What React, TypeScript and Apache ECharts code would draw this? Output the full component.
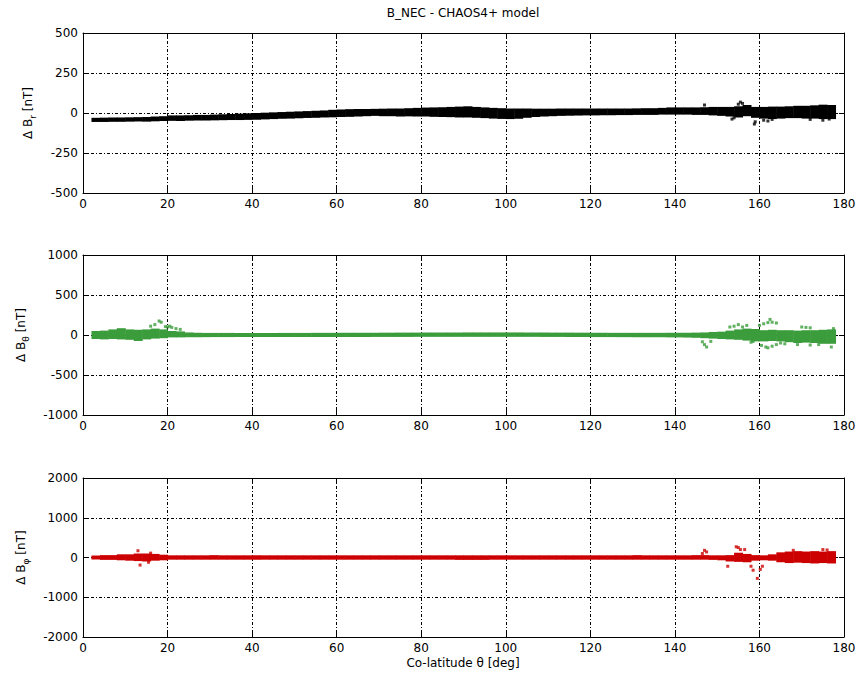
import React, { useEffect, useRef } from "react";
import * as echarts from "echarts";

// Band rows: [colatitude start, lower nT, upper nT] (each row spans to the next row's start)
const brBand: [number, number, number][] = [
  [2, -56, -30], [4, -56, -29], [6, -55, -28], [8, -55, -28], [10, -54, -27], [12, -53, -26],
  [14, -54, -25], [16, -52, -22], [18, -50, -20], [20, -49, -15], [22, -50, -15], [24, -48, -14],
  [26, -47, -12], [28, -47, -12], [30, -46, -10], [32, -45, -8], [34, -44, -6], [36, -44, -4],
  [38, -43, -2], [40, -42, 0], [42, -40, 2], [44, -38, 4], [46, -36, 6], [48, -35, 8],
  [50, -33, 10], [52, -31, 12], [54, -30, 14], [56, -28, 16], [58, -27, 20], [60, -25, 22],
  [62, -24, 24], [64, -22, 25], [66, -20, 25], [68, -18, 26], [70, -20, 27], [72, -20, 28],
  [74, -22, 28], [76, -21, 30], [78, -22, 32], [80, -22, 34], [82, -24, 35], [84, -25, 36],
  [86, -26, 38], [88, -28, 40], [90, -28, 42], [92, -30, 38], [94, -32, 35], [96, -35, 32],
  [98, -37, 30], [100, -38, 28], [102, -36, 28], [104, -30, 28], [106, -25, 27], [108, -22, 27],
  [110, -20, 27], [112, -18, 28], [114, -17, 28], [116, -16, 28], [118, -15, 28], [120, -15, 28],
  [122, -14, 28], [124, -14, 28], [126, -13, 28], [128, -13, 28], [130, -12, 29], [132, -12, 30],
  [134, -12, 30], [136, -10, 32], [138, -10, 35], [140, -10, 35], [142, -10, 35], [144, -12, 35],
  [146, -12, 36], [148, -15, 38], [150, -18, 38], [152, -22, 38], [154, -28, 42], [156, -20, 50],
  [158, -30, 38], [160, -35, 38], [162, -38, 40], [164, -35, 40], [166, -32, 42], [168, -32, 45],
  [170, -35, 45], [172, -35, 48], [174, -38, 52], [176, -38, 50],
];
const brOutliers: [number, number][] = [
  [147, 50], [155.5, 68], [156, 60], [155, 55], [153.5, -38], [154, -30], [158.8, -69], [159, -55],
  [161, -45], [162, -50], [163, -40], [172, -40], [175, -45], [176.5, -38],
];

const btBand: [number, number, number][] = [
  [2, -50, 50], [4, -55, 55], [6, -50, 70], [8, -55, 85], [10, -60, 70], [12, -75, 65],
  [14, -55, 70], [16, -45, 80], [18, -40, 70], [20, -30, 50], [22, -30, 45], [24, -28, 32],
  [26, -28, 28], [28, -27, 26], [30, -26, 26], [32, -26, 26], [34, -26, 26], [36, -25, 25],
  [38, -25, 25], [40, -25, 25], [42, -25, 25], [44, -25, 25], [46, -25, 26], [48, -25, 26],
  [50, -25, 26], [52, -25, 26], [54, -25, 27], [56, -25, 27], [58, -25, 27], [60, -25, 28],
  [62, -25, 28], [64, -25, 28], [66, -25, 28], [68, -24, 28], [70, -24, 29], [72, -24, 29],
  [74, -24, 30], [76, -24, 30], [78, -23, 30], [80, -23, 31], [82, -23, 31], [84, -23, 31],
  [86, -23, 31], [88, -23, 31], [90, -23, 32], [92, -23, 32], [94, -23, 32], [96, -23, 32],
  [98, -23, 32], [100, -23, 32], [102, -23, 32], [104, -23, 31], [106, -23, 31], [108, -24, 31],
  [110, -24, 30], [112, -24, 30], [114, -25, 30], [116, -25, 29], [118, -25, 29], [120, -26, 28],
  [122, -26, 28], [124, -26, 27], [126, -27, 27], [128, -27, 27], [130, -28, 27], [132, -28, 27],
  [134, -28, 27], [136, -28, 27], [138, -30, 28], [140, -30, 28], [142, -32, 28], [144, -35, 30],
  [146, -40, 32], [148, -45, 38], [150, -50, 42], [152, -55, 55], [154, -60, 70], [156, -70, 80],
  [158, -80, 75], [160, -80, 60], [162, -75, 65], [164, -80, 60], [166, -90, 60], [168, -100, 55],
  [170, -95, 60], [172, -100, 60], [174, -110, 65], [176, -110, 70],
];
const btOutliers: [number, number][] = [
  [16, 110], [17, 130], [18, 175], [18.5, 160], [19.5, 105], [20, 100], [20.5, 110], [21, 95],
  [22, 80], [23, 70], [146.5, -85], [147, -120], [147.5, -150], [148.5, -80], [153, 100],
  [154, 110], [155, 130], [156, 100], [157, 120], [158, -90], [158.5, -80], [160, 120], [161, 140],
  [162, 155], [162.5, 195], [163, 160], [164, 150], [160.5, -130], [161.5, -150], [162, -160],
  [163, -140], [164, -120], [165, -100], [170, 100], [171, 95], [172, 90], [166, -110],
  [169, -120], [172, -125], [174, -120], [177, -150], [177.5, 80],
];

const bpBand: [number, number, number][] = [
  [2, -50, 50], [4, -60, 60], [6, -60, 60], [8, -70, 80], [10, -80, 80], [12, -90, 100],
  [14, -100, 100], [16, -80, 90], [18, -70, 70], [20, -55, 55], [22, -55, 55], [24, -55, 55],
  [26, -55, 55], [28, -55, 55], [30, -55, 60], [32, -55, 55], [34, -55, 55], [36, -55, 55],
  [38, -55, 55], [40, -55, 55], [42, -55, 55], [44, -55, 55], [46, -55, 55], [48, -55, 55],
  [50, -55, 55], [52, -55, 55], [54, -55, 55], [56, -55, 55], [58, -55, 55], [60, -55, 55],
  [62, -55, 55], [64, -55, 55], [66, -55, 55], [68, -55, 55], [70, -55, 55], [72, -55, 55],
  [74, -55, 55], [76, -55, 55], [78, -55, 55], [80, -55, 55], [82, -55, 55], [84, -55, 55],
  [86, -55, 55], [88, -60, 55], [90, -60, 55], [92, -60, 55], [94, -60, 55], [96, -55, 55],
  [98, -55, 55], [100, -55, 55], [102, -55, 55], [104, -55, 55], [106, -55, 55], [108, -55, 55],
  [110, -55, 55], [112, -55, 55], [114, -55, 55], [116, -55, 55], [118, -55, 55], [120, -55, 55],
  [122, -55, 55], [124, -55, 55], [126, -55, 55], [128, -55, 55], [130, -55, 60], [132, -55, 55],
  [134, -55, 55], [136, -55, 55], [138, -55, 55], [140, -55, 55], [142, -55, 55], [144, -55, 60],
  [146, -55, 60], [148, -60, 55], [150, -70, 55], [152, -100, 60], [154, -110, 120],
  [156, -120, 90], [158, -80, 60], [160, -70, 55], [162, -80, 80], [164, -120, 130],
  [166, -140, 150], [168, -130, 160], [170, -140, 150], [172, -150, 160], [174, -140, 150],
  [176, -150, 160],
];
const bpOutliers: [number, number][] = [
  [13, 170], [13.5, -190], [16, 110], [15.5, -120], [146.5, 100], [147, 180], [147.5, 140],
  [152.5, -220], [154.5, 270], [155, 250], [155.5, 200], [156.5, 200], [158, -220], [158.5, -320],
  [159.5, -525], [160.2, -300], [160.7, -220], [168, 180], [175, 200], [176, 190],
];

const panels = [
  { band: brBand, out: brOutliers, color: "#000000", min: -500, max: 500, interval: 250, sub: "r", gap: 46 },
  { band: btBand, out: btOutliers, color: "#3b9c3b", min: -1000, max: 1000, interval: 500, sub: "θ", gap: 53 },
  { band: bpBand, out: bpOutliers, color: "#cc0000", min: -2000, max: 2000, interval: 1000, sub: "φ", gap: 53 },
];

const FONT = "'DejaVu Sans', 'Liberation Sans', sans-serif";
const gridTops = [33, 255, 478];
const gridHeights = [160, 160, 159];

export default function App() {
  const ref = useRef<HTMLDivElement>(null);
  useEffect(() => {
    if (!ref.current) return;
    const chart = echarts.init(ref.current, undefined, { renderer: "svg" });
    const grids: any[] = [];
    const xAxes: any[] = [];
    const yAxes: any[] = [];
    const series: any[] = [];
    const dash = [3, 2, 1, 2];
    const fmt = (v: number) => String(v);
    panels.forEach((p, i) => {
      grids.push({ left: 83, right: 17, top: gridTops[i], height: gridHeights[i] });
      const axCommon = {
        gridIndex: i,
        axisLine: { show: true, onZero: false, lineStyle: { color: "#000", width: 1 } },
        axisTick: { show: true, inside: true, length: 5, lineStyle: { color: "#000" } },
      };
      xAxes.push({
        ...axCommon, type: "value", position: "bottom", min: 0, max: 180, interval: 20,
        axisLabel: { color: "#000", fontSize: 12, fontFamily: FONT, margin: 5, formatter: fmt },
        splitLine: { show: true, lineStyle: { color: "#000", type: dash, width: 1 } },
      });
      xAxes.push({
        ...axCommon, type: "value", position: "top", min: 0, max: 180, interval: 20,
        axisLabel: { show: false }, splitLine: { show: false },
      });
      yAxes.push({
        ...axCommon, type: "value", position: "left", min: p.min, max: p.max, interval: p.interval,
        axisLabel: { color: "#000", fontSize: 12, fontFamily: FONT, margin: 5, formatter: fmt },
        splitLine: { show: true, lineStyle: { color: "#000", type: dash, width: 1 } },
        name: `{a|Δ B}{s|${p.sub}}{a| [nT]}`,
        nameLocation: "middle",
        nameRotate: 90,
        nameGap: p.gap,
        nameTextStyle: {
          rich: {
            a: { fontSize: 12, fontFamily: FONT, color: "#000", lineHeight: 18 },
            s: { fontSize: 9, fontFamily: FONT, color: "#000", lineHeight: 10, verticalAlign: "bottom" },
          },
        },
      });
      yAxes.push({
        ...axCommon, type: "value", position: "right", min: p.min, max: p.max, interval: p.interval,
        axisLabel: { show: false }, splitLine: { show: false },
      });
      const band = p.band;
      const color = p.color;
      series.push({
        type: "custom",
        xAxisIndex: 2 * i,
        yAxisIndex: 2 * i,
        data: band,
        encode: { x: 0, y: [1, 2] },
        renderItem: (params: any, api: any) => {
          const idx = params.dataIndex;
          const x0 = api.value(0);
          const next = idx + 1 < band.length ? band[idx + 1][0] : x0 + 2;
          const p1 = api.coord([x0, api.value(2)]);
          const p2 = api.coord([next, api.value(1)]);
          return {
            type: "rect",
            shape: { x: p1[0], y: p1[1], width: p2[0] - p1[0] + 0.5, height: p2[1] - p1[1] },
            style: { fill: color },
          };
        },
      });
      series.push({
        type: "scatter",
        xAxisIndex: 2 * i,
        yAxisIndex: 2 * i,
        data: p.out,
        symbol: "rect",
        symbolSize: 3,
        itemStyle: { color },
      });
    });
    chart.setOption({
      animation: false,
      backgroundColor: "#ffffff",
      grid: grids,
      xAxis: xAxes,
      yAxis: yAxes,
      series,
      graphic: [
        {
          type: "text", x: 463, y: 13,
          style: { text: "B_NEC - CHAOS4+ model", fontSize: 12, fontFamily: FONT, fill: "#000", textAlign: "center", textVerticalAlign: "middle" },
        },
        {
          type: "text", x: 463, y: 663,
          style: { text: "Co-latitude θ [deg]", fontSize: 12, fontFamily: FONT, fill: "#000", textAlign: "center", textVerticalAlign: "middle" },
        },
      ],
    });
    return () => chart.dispose();
  }, []);
  return <div ref={ref} style={{ position: "fixed", left: 0, top: 0, width: 861, height: 677 }} />;
}
